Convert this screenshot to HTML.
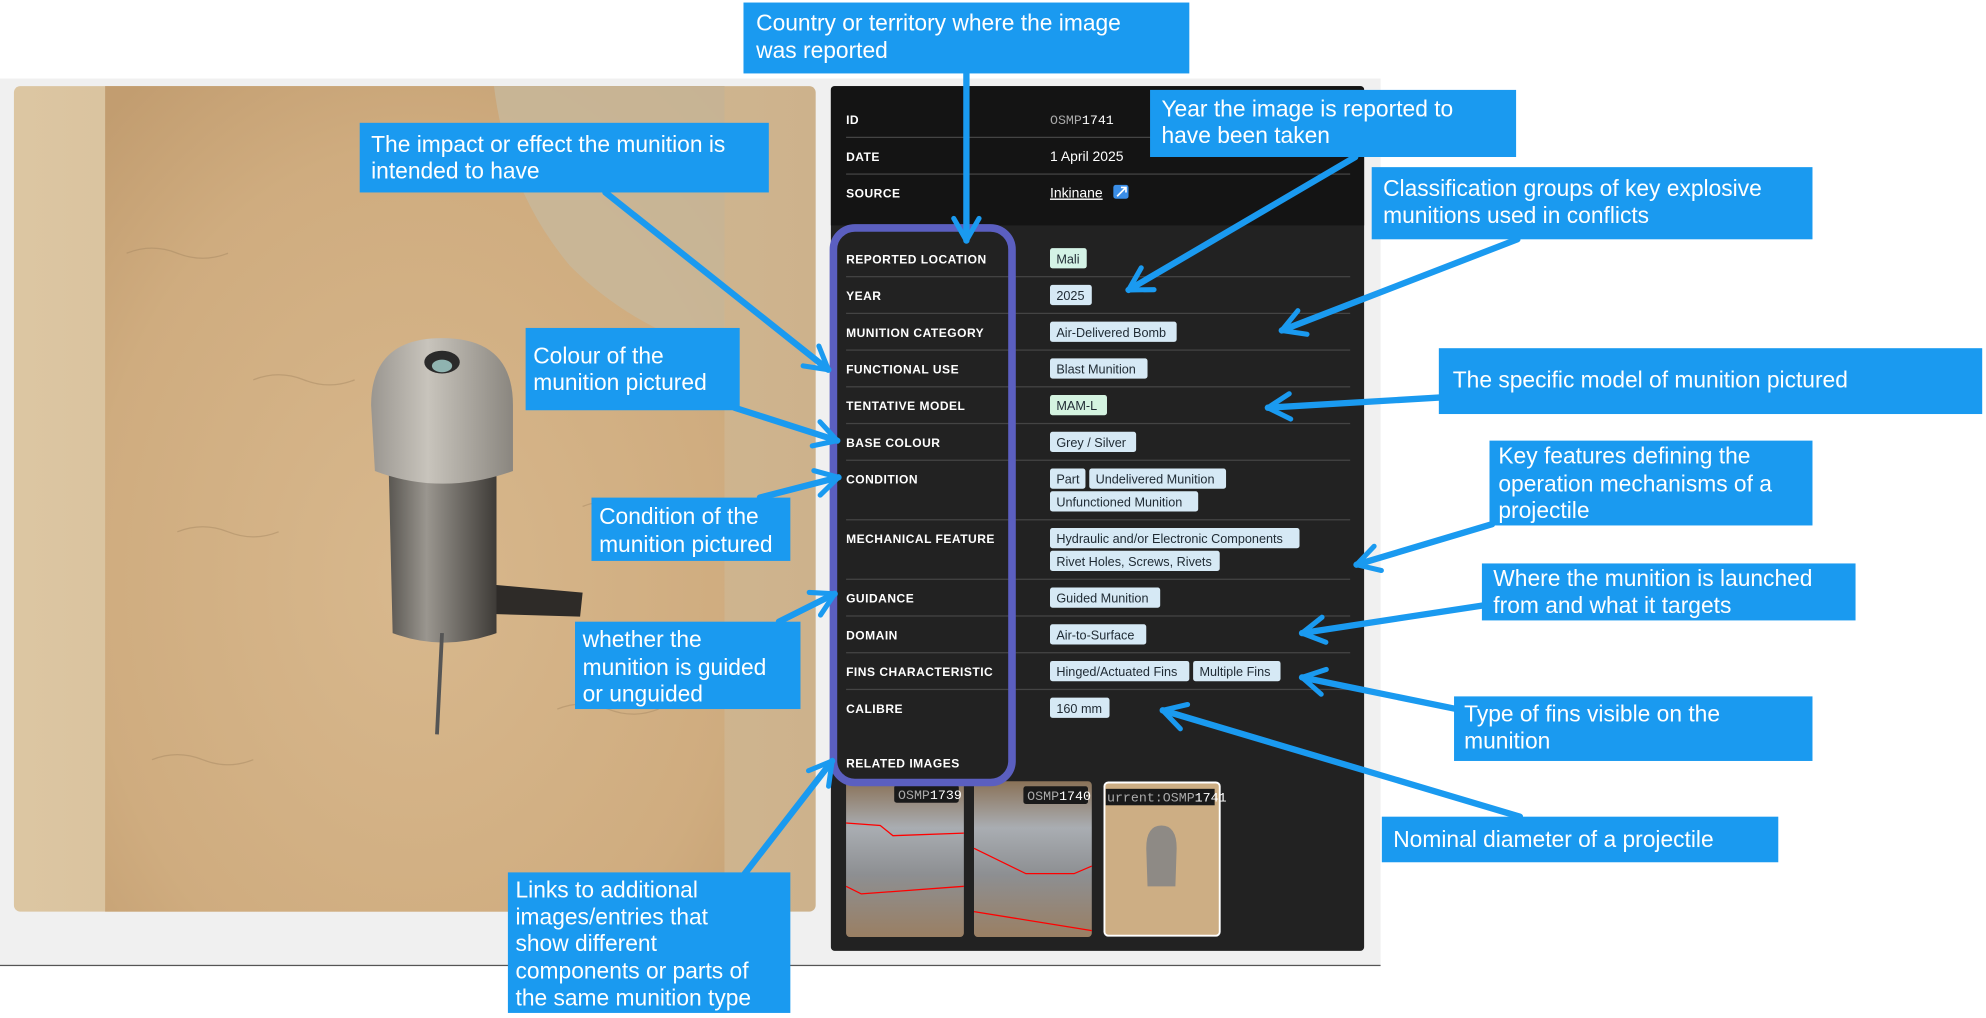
<!DOCTYPE html>
<html><head><meta charset="utf-8"><style>
html,body{margin:0;padding:0;background:#fff;overflow:hidden}
svg{display:block}
.ann{font-family:"Liberation Sans",Arial,sans-serif;font-size:18px;fill:#fff}
.lbl{font-family:"Liberation Sans",Arial,sans-serif;font-size:9.5px;font-weight:bold;fill:#fff;letter-spacing:0.4px}
.val{font-family:"Liberation Sans",Arial,sans-serif;font-size:11px;fill:#fff}
.tag{font-family:"Liberation Sans",Arial,sans-serif;font-size:10px;fill:#1f2a33}
.mono{font-family:"Liberation Mono",monospace;font-size:10.5px}
</style></head><body>
<svg width="1986" height="1018" viewBox="0 0 1568 804" preserveAspectRatio="none" xmlns="http://www.w3.org/2000/svg">
<defs>
<linearGradient id="side" x1="0" x2="1"><stop offset="0" stop-color="#dcc6a2"/><stop offset="1" stop-color="#cdb28c"/></linearGradient>
<radialGradient id="sand" cx="0.5" cy="0.6" r="0.75"><stop offset="0" stop-color="#d8b88d"/><stop offset="0.7" stop-color="#cfac7f"/><stop offset="1" stop-color="#c29d70"/></radialGradient>
<linearGradient id="dome" x1="0" x2="1"><stop offset="0" stop-color="#9a9690"/><stop offset="0.4" stop-color="#c8c4bc"/><stop offset="1" stop-color="#8a867f"/></linearGradient>
<linearGradient id="cyl" x1="0" x2="1"><stop offset="0" stop-color="#5a5752"/><stop offset="0.35" stop-color="#9a968f"/><stop offset="1" stop-color="#3e3b37"/></linearGradient>
<linearGradient id="th" x1="0" y1="0" x2="0" y2="1"><stop offset="0" stop-color="#8a7258"/><stop offset="0.3" stop-color="#a9adb2"/><stop offset="0.6" stop-color="#8d8f92"/><stop offset="1" stop-color="#9a7f63"/></linearGradient>
<marker id="ah" viewBox="0 0 20 20" refX="17" refY="10" markerWidth="5" markerHeight="5" orient="auto" markerUnits="strokeWidth"><path d="M3,2 L17,10 L3,18" fill="none" stroke="#1a9af0" stroke-width="3.2" stroke-linecap="round" stroke-linejoin="round"/></marker>
</defs>
<rect x="0" y="62" width="1090" height="700" fill="#f0f0f0"/>
<rect x="0" y="762" width="1090" height="1" fill="#555"/>
<rect x="11" y="68" width="633" height="652" rx="5" fill="url(#side)"/>
<rect x="83" y="68" width="489" height="652" fill="url(#sand)"/>
<path d="M390,68 L572,68 L572,280 Q500,260 450,210 Q400,150 390,68Z" fill="#c8b79a" opacity="0.85"/>
<g stroke="#a88a64" stroke-width="1" opacity="0.5" fill="none">
<path d="M100,200 q20,-8 40,0 t40,0"/><path d="M140,420 q20,-8 40,0 t40,0"/><path d="M440,560 q20,-8 40,0 t40,0"/><path d="M120,600 q20,-8 40,0 t40,0"/><path d="M460,400 q20,-8 40,0 t40,0"/><path d="M200,300 q20,-8 40,0 t40,0"/>
</g>
<path d="M392,462 L460,468 L458,487 L392,485Z" fill="#2e2b28"/>
<path d="M307,375 L392,375 L392,500 Q350,515 310,500Z" fill="url(#cyl)"/>
<path d="M293,320 Q293,267 349,267 Q405,267 405,320 L405,372 Q349,392 296,372Z" fill="url(#dome)"/>
<ellipse cx="349" cy="286" rx="14" ry="9" fill="#2a2a2a"/><ellipse cx="349" cy="289" rx="8" ry="5" fill="#8fb3b0"/>
<line x1="349" y1="500" x2="345" y2="580" stroke="#555" stroke-width="3"/>
<rect x="656" y="68" width="421" height="683" rx="3" fill="#222"/>
<path d="M659,68 L1074,68 Q1077,68 1077,71 L1077,178 L656,178 L656,71 Q656,68 659,68Z" fill="#141414"/>
<g fill="#444"><rect x="668" y="108" width="398" height="1"/><rect x="668" y="137" width="398" height="1"/>
<rect x="668" y="218" width="398" height="1"/><rect x="668" y="247" width="398" height="1"/><rect x="668" y="276" width="398" height="1"/><rect x="668" y="305" width="398" height="1"/><rect x="668" y="334" width="398" height="1"/><rect x="668" y="363" width="398" height="1"/><rect x="668" y="410" width="398" height="1"/><rect x="668" y="457" width="398" height="1"/><rect x="668" y="486" width="398" height="1"/><rect x="668" y="515" width="398" height="1"/><rect x="668" y="544" width="398" height="1"/></g>
<g class="lbl">
<text x="668" y="98">ID</text><text x="668" y="127">DATE</text><text x="668" y="156">SOURCE</text>
<text x="668" y="208">REPORTED LOCATION</text><text x="668" y="237">YEAR</text><text x="668" y="266">MUNITION CATEGORY</text><text x="668" y="295">FUNCTIONAL USE</text><text x="668" y="324">TENTATIVE MODEL</text><text x="668" y="353">BASE COLOUR</text><text x="668" y="382">CONDITION</text><text x="668" y="429">MECHANICAL FEATURE</text><text x="668" y="476">GUIDANCE</text><text x="668" y="505">DOMAIN</text><text x="668" y="534">FINS CHARACTERISTIC</text><text x="668" y="563">CALIBRE</text><text x="668" y="606">RELATED IMAGES</text>
</g>
<text x="829" y="98" class="mono" fill="#aaa">OSMP<tspan fill="#fff">1741</tspan></text>
<text x="829" y="127" class="val">1 April 2025</text>
<text x="829" y="156" class="val" text-decoration="underline">Inkinane</text>
<rect x="879" y="146" width="12" height="11" rx="2" fill="#3a8ee8"/><path d="M882,155 L889,148 M885,148 L889,148 L889,152" stroke="#fff" stroke-width="1.3" fill="none"/>
<g>
<rect x="829" y="196" width="29" height="16" rx="2" fill="#d4f3e6"/><text x="834" y="208" class="tag">Mali</text>
<rect x="829" y="225" width="33" height="16" rx="2" fill="#d6e9f5"/><text x="834" y="237" class="tag">2025</text>
<rect x="829" y="254" width="100" height="16" rx="2" fill="#d6e9f5"/><text x="834" y="266" class="tag">Air-Delivered Bomb</text>
<rect x="829" y="283" width="77" height="16" rx="2" fill="#d6e9f5"/><text x="834" y="295" class="tag">Blast Munition</text>
<rect x="829" y="312" width="45" height="16" rx="2" fill="#d4f3e0"/><text x="834" y="324" class="tag">MAM-L</text>
<rect x="829" y="341" width="68" height="16" rx="2" fill="#d6e9f5"/><text x="834" y="353" class="tag">Grey / Silver</text>
<rect x="829" y="370" width="28" height="16" rx="2" fill="#d6e9f5"/><text x="834" y="382" class="tag">Part</text>
<rect x="860" y="370" width="108" height="16" rx="2" fill="#d6e9f5"/><text x="865" y="382" class="tag">Undelivered Munition</text>
<rect x="829" y="388" width="117" height="16" rx="2" fill="#d6e9f5"/><text x="834" y="400" class="tag">Unfunctioned Munition</text>
<rect x="829" y="417" width="197" height="16" rx="2" fill="#d6e9f5"/><text x="834" y="429" class="tag">Hydraulic and/or Electronic Components</text>
<rect x="829" y="435" width="134" height="16" rx="2" fill="#d6e9f5"/><text x="834" y="447" class="tag">Rivet Holes, Screws, Rivets</text>
<rect x="829" y="464" width="87" height="16" rx="2" fill="#d6e9f5"/><text x="834" y="476" class="tag">Guided Munition</text>
<rect x="829" y="493" width="76" height="16" rx="2" fill="#d6e9f5"/><text x="834" y="505" class="tag">Air-to-Surface</text>
<rect x="829" y="522" width="110" height="16" rx="2" fill="#d6e9f5"/><text x="834" y="534" class="tag">Hinged/Actuated Fins</text>
<rect x="942" y="522" width="69" height="16" rx="2" fill="#d6e9f5"/><text x="947" y="534" class="tag">Multiple Fins</text>
<rect x="829" y="551" width="47" height="16" rx="2" fill="#d6e9f5"/><text x="834" y="563" class="tag">160 mm</text>
</g>
<rect x="668" y="617" width="93" height="123" rx="3" fill="url(#th)"/>
<path d="M668,650 L695,652 L705,660 L761,658 M668,700 L680,706 L761,700" stroke="#f00" stroke-width="1" fill="none"/>
<rect x="706" y="620" width="51" height="14" rx="2" fill="#1a1a1a"/><text x="709" y="631" class="mono" fill="#aaa">OSMP<tspan fill="#fff">1739</tspan></text>
<rect x="769" y="617" width="93" height="123" rx="3" fill="url(#th)"/>
<path d="M769,670 L810,690 L848,690 L862,684 M769,720 L862,735" stroke="#f00" stroke-width="1" fill="none"/>
<rect x="808" y="621" width="51" height="14" rx="2" fill="#1a1a1a"/><text x="811" y="632" class="mono" fill="#aaa">OSMP<tspan fill="#fff">1740</tspan></text>
<rect x="872" y="618" width="91" height="121" rx="3" fill="#cdae84" stroke="#fff" stroke-width="1.5"/>
<path d="M905,670 Q905,652 917,652 Q929,652 929,670 L928,700 L906,700Z" fill="#8e8a85"/>
<rect x="873" y="623" width="86" height="13" fill="#1a1a1a"/><text x="874" y="633" class="mono" font-size="10" fill="#aaa">urrent:OSMP<tspan fill="#fff">1741</tspan></text>
<rect x="658" y="180" width="141" height="438" rx="17" fill="none" stroke="#5b5fc0" stroke-width="6"/>
<g stroke="#1a9af0" stroke-width="5" fill="none" stroke-linecap="round" marker-end="url(#ah)">
<line x1="763" y1="58" x2="763" y2="190"/>
<line x1="478" y1="152" x2="654" y2="292"/>
<line x1="1070" y1="124" x2="891" y2="229"/>
<line x1="1198" y1="189" x2="1012" y2="261"/>
<line x1="1136" y1="314" x2="1001" y2="322"/>
<line x1="580" y1="322" x2="661" y2="348"/>
<line x1="1178" y1="414" x2="1071" y2="446"/>
<line x1="600" y1="393" x2="662" y2="377"/>
<line x1="1172" y1="478" x2="1028" y2="500"/>
<line x1="615" y1="491" x2="659" y2="469"/>
<line x1="1150" y1="560" x2="1028" y2="535"/>
<line x1="1200" y1="645" x2="918" y2="561"/>
<line x1="588" y1="690" x2="657" y2="601"/>
</g>
<g fill="#1a9af0">
<rect x="587" y="2" width="352" height="56"/>
<rect x="284" y="97" width="323" height="55"/>
<rect x="908" y="71" width="289" height="53"/>
<rect x="1083" y="132" width="348" height="57"/>
<rect x="1136" y="275" width="429" height="52"/>
<rect x="415" y="259" width="169" height="65"/>
<rect x="1176" y="348" width="255" height="67"/>
<rect x="467" y="393" width="157" height="50"/>
<rect x="1170" y="445" width="295" height="45"/>
<rect x="454" y="491" width="178" height="69"/>
<rect x="1148" y="550" width="283" height="51"/>
<rect x="1091" y="645" width="313" height="36"/>
<rect x="401" y="689" width="223" height="111"/>
</g>
<g class="ann">
<text x="597" y="24">Country or territory where the image</text><text x="597" y="46">was reported</text>
<text x="293" y="120">The impact or effect the munition is</text><text x="293" y="141">intended to have</text>
<text x="917" y="92">Year the image is reported to</text><text x="917" y="113">have been taken</text>
<text x="1092" y="155">Classification groups of key explosive</text><text x="1092" y="176">munitions used in conflicts</text>
<text x="1147" y="306">The specific model of munition pictured</text>
<text x="421" y="287">Colour of the</text><text x="421" y="308">munition pictured</text>
<text x="1183" y="366">Key features defining the</text><text x="1183" y="388">operation mechanisms of a</text><text x="1183" y="409">projectile</text>
<text x="473" y="414">Condition of the</text><text x="473" y="436">munition pictured</text>
<text x="1179" y="463">Where the munition is launched</text><text x="1179" y="484">from and what it targets</text>
<text x="460" y="511">whether the</text><text x="460" y="533">munition is guided</text><text x="460" y="554">or unguided</text>
<text x="1156" y="570">Type of fins visible on the</text><text x="1156" y="591">munition</text>
<text x="1100" y="669">Nominal diameter of a projectile</text>
<text x="407" y="709">Links to additional</text><text x="407" y="730">images/entries that</text><text x="407" y="751">show different</text><text x="407" y="773">components or parts of</text><text x="407" y="794">the same munition type</text>
</g>
</svg>
</body></html>
